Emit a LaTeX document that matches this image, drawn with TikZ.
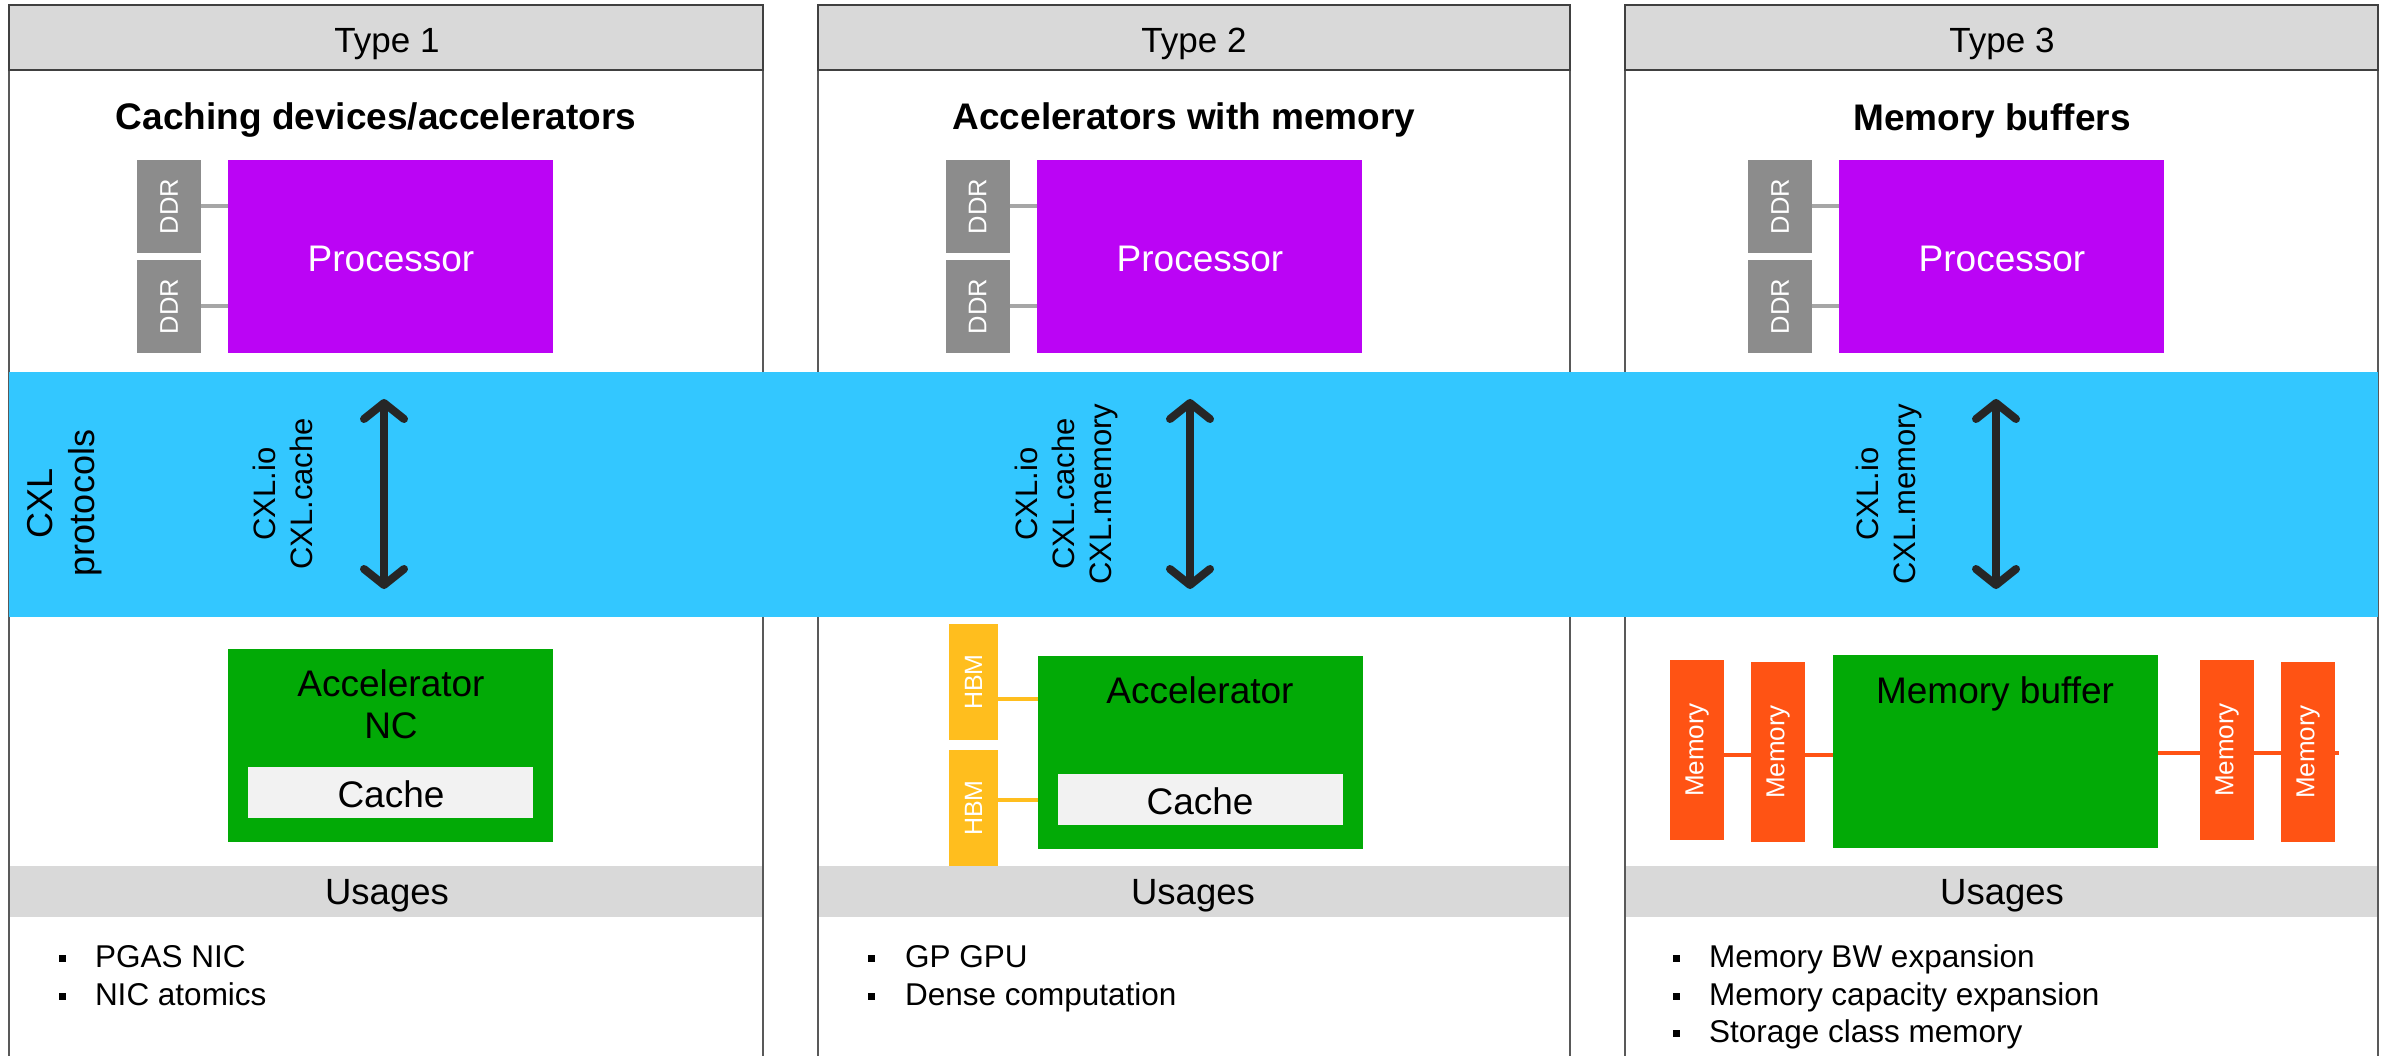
\documentclass[tikz,border=0pt]{standalone}
\usepackage{graphicx}
\usepackage{fontspec}
\setmainfont{Liberation Sans}
\usetikzlibrary{arrows.meta}
\definecolor{hdr}{HTML}{D9D9D9}
\definecolor{colline}{HTML}{595959}
\definecolor{hdrline}{HTML}{404040}
\definecolor{procc}{HTML}{BB04F5}
\definecolor{ddrc}{HTML}{8C8C8C}
\definecolor{ddrl}{HTML}{A6A6A6}
\definecolor{bandc}{HTML}{33C7FF}
\definecolor{grn}{HTML}{02AA06}
\definecolor{cachec}{HTML}{F2F2F2}
\definecolor{arrc}{HTML}{262626}
\definecolor{hbmc}{HTML}{FFBE1E}
\definecolor{memc}{HTML}{FF5314}
\tikzset{
  plain/.style={inner sep=0pt, outer sep=0pt},
  hdrbox/.style={plain, fill=hdr, draw=hdrline, line width=2pt, minimum width=754pt, minimum height=65pt},
  usebar/.style={plain, fill=hdr, minimum width=754pt, minimum height=51pt},
  procbox/.style={plain, fill=procc, minimum width=325pt, minimum height=193pt},
  ddrbox/.style={plain, fill=ddrc, minimum width=64pt, minimum height=93pt, text=white, font=\fontsize{25.5}{30}\selectfont},
  hbmbox/.style={plain, fill=hbmc, minimum width=49pt, minimum height=116pt, text=white, font=\fontsize{25}{30}\selectfont},
  membox/.style={plain, fill=memc, minimum width=54pt, minimum height=180pt, text=white, font=\fontsize{26}{31}\selectfont},
  grnbox/.style={plain, fill=grn, minimum width=325pt, minimum height=193pt},
  cachebox/.style={plain, fill=cachec, minimum width=285pt, minimum height=51pt},
  maintxt/.style={plain, anchor=base, font=\fontsize{37}{44}\selectfont},
  typetxt/.style={plain, anchor=base, font=\fontsize{35}{42}\selectfont},
  titletxt/.style={plain, anchor=base, font=\fontsize{37}{44}\selectfont\bfseries},
  cxltxt/.style={plain, rotate=90, align=center, font=\fontsize{31}{37}\selectfont},
  utxt/.style={plain, anchor=base west, font=\fontsize{31.5}{38}\selectfont},
  bul/.style={plain, fill=black, minimum size=7pt},
  ddrline/.style={draw=ddrl, line width=4pt},
  hbmline/.style={draw=hbmc, line width=4pt},
  memline/.style={draw=memc, line width=4pt},
  colborder/.style={draw=colline, line width=2pt},
  bigarrow/.style={draw=arrc, line width=8pt,
    {Straight Barb[length=16pt,width=40pt,round]}-{Straight Barb[length=16pt,width=40pt,round]}}
}
\begin{document}
\begin{tikzpicture}[x=1pt,y=-1pt]
\useasboundingbox (0,0) rectangle (2387,1056);
\fill[white] (0,0) rectangle (2387,1056);

% usages bars
\node[usebar] (ub1) at (386,891.5) {};
\node[usebar] (ub2) at (1194,891.5) {};
\node[usebar] (ub3) at (2001.5,891.5) {};
% column borders
\draw[colborder] (9,1060) -- (9,6) -- (763,6) -- (763,1060);
\draw[colborder] (818,1060) -- (818,6) -- (1570,6) -- (1570,1060);
\draw[colborder] (1625,1060) -- (1625,6) -- (2378,6) -- (2378,1060);
% headers
\node[hdrbox] (h1) at (386,38) {};
\node[hdrbox, minimum width=752pt] (h2) at (1194,38) {};
\node[hdrbox, minimum width=753pt] (h3) at (2001.5,38) {};
\node[typetxt] (h1t) at (387,53) {Type 1};
\node[typetxt] (h2t) at (1194,53) {Type 2};
\node[typetxt] (h3t) at (2002,53) {Type 3};
% titles
\node[titletxt] (t1) at (376,130) {Caching devices/accelerators};
\node[titletxt] (t2) at (1184,130) {Accelerators with memory};
\node[titletxt] (t3) at (1992,131) {Memory buffers};

% processors and DDR
\node[procbox] (p1) at (390.5,256.5) {};
\node[procbox] (p2) at (1199.5,256.5) {};
\node[procbox] (p3) at (2001.5,256.5) {};
\node[maintxt, text=white] (p1t) at (391,272) {Processor};
\node[maintxt, text=white] (p2t) at (1200,272) {Processor};
\node[maintxt, text=white] (p3t) at (2002,272) {Processor};
\node[ddrbox] (d11) at (169,206.5) {\rotatebox{90}{DDR}};
\node[ddrbox] (d12) at (169,306.5) {\rotatebox{90}{DDR}};
\node[ddrbox] (d21) at (977.5,206.5) {\rotatebox{90}{DDR}};
\node[ddrbox] (d22) at (977.5,306.5) {\rotatebox{90}{DDR}};
\node[ddrbox] (d31) at (1780,206.5) {\rotatebox{90}{DDR}};
\node[ddrbox] (d32) at (1780,306.5) {\rotatebox{90}{DDR}};
\draw[ddrline] (d11.east) -- (p1.west |- d11.east);
\draw[ddrline] (d12.east) -- (p1.west |- d12.east);
\draw[ddrline] (d21.east) -- (p2.west |- d21.east);
\draw[ddrline] (d22.east) -- (p2.west |- d22.east);
\draw[ddrline] (d31.east) -- (p3.west |- d31.east);
\draw[ddrline] (d32.east) -- (p3.west |- d32.east);

% CXL band
\node[plain, fill=bandc, minimum width=2369pt, minimum height=245pt] (band) at (1193.5,494.5) {};
\node[cxltxt, font=\fontsize{36}{42}\selectfont] (cxlp) at (65,503) {CXL\\protocols};
\node[cxltxt] (l1) at (283,494) {CXL.io\\CXL.cache};
\node[cxltxt] (l2) at (1066,494) {CXL.io\\CXL.cache\\CXL.memory};
\node[cxltxt] (l3) at (1889,494) {CXL.io\\CXL.memory};
\coordinate (a1t) at (384,399);
\coordinate (a1b) at (384,589);
\coordinate (a2t) at (1190,399);
\coordinate (a2b) at (1190,589);
\coordinate (a3t) at (1996,399);
\coordinate (a3b) at (1996,589);
\draw[bigarrow] (a1t) -- (a1b);
\draw[bigarrow] (a2t) -- (a2b);
\draw[bigarrow] (a3t) -- (a3b);

% Type 1 device
\node[grnbox] (g1) at (390.5,745.5) {};
\node[maintxt] (g1t) at (391,696) {Accelerator};
\node[maintxt] (g1n) at (391,738) {NC};
\node[cachebox] (c1) at (390.5,792.5) {};
\node[maintxt] (c1t) at (391,807) {Cache};

% Type 2 device
\node[grnbox] (g2) at (1200.5,752.5) {};
\node[maintxt] (g2t) at (1200,703) {Accelerator};
\node[cachebox] (c2) at (1200.5,799.5) {};
\node[maintxt] (c2t) at (1200,814) {Cache};
\node[hbmbox] (hb1) at (973.5,682) {\rotatebox{90}{HBM}};
\node[hbmbox] (hb2) at (973.5,808) {\rotatebox{90}{HBM}};
\draw[hbmline] ([yshift=-17pt]hb1.east) -- (g2.west |- 0,699);
\draw[hbmline] ([yshift=8pt]hb2.east) -- (g2.west |- 0,800);

% Type 3 device
\node[grnbox] (g3) at (1995.5,751.5) {};
\node[maintxt] (g3t) at (1995,703) {Memory buffer};
\node[membox] (m1) at (1697,750) {\rotatebox{90}{Memory}};
\node[membox] (m2) at (1778,752) {\rotatebox{90}{Memory}};
\node[membox] (m3) at (2227,750) {\rotatebox{90}{Memory}};
\node[membox] (m4) at (2308,752) {\rotatebox{90}{Memory}};
\coordinate (mend) at (2339,753);
\draw[memline] (m1.east |- 0,755) -- (m2.west |- 0,755);
\draw[memline] (m2.east |- 0,755) -- (g3.west |- 0,755);
\draw[memline] (g3.east |- 0,753) -- (m3.west |- 0,753);
\draw[memline] (m3.east |- 0,753) -- (m4.west |- 0,753);
\draw[memline] (m4.east |- 0,753) -- (mend);

% Usages
\node[maintxt, font=\fontsize{36.5}{44}\selectfont] (u1) at (387,904) {Usages};
\node[maintxt, font=\fontsize{36.5}{44}\selectfont] (u2) at (1193,904) {Usages};
\node[maintxt, font=\fontsize{36.5}{44}\selectfont] (u3) at (2002,904) {Usages};

\node[bul] (b11) at (62,958) {};
\node[utxt] (u11) at (95,967) {PGAS NIC};
\node[bul] (b12) at (62,996) {};
\node[utxt] (u12) at (95,1005) {NIC atomics};

\node[bul] (b21) at (871,958) {};
\node[utxt] (u21) at (905,967) {GP GPU};
\node[bul] (b22) at (871,996) {};
\node[utxt] (u22) at (905,1005) {Dense computation};

\node[bul] (b31) at (1676,958) {};
\node[utxt] (u31) at (1709,967) {Memory BW expansion};
\node[bul] (b32) at (1676,996) {};
\node[utxt] (u32) at (1709,1005) {Memory capacity expansion};
\node[bul] (b33) at (1676,1033) {};
\node[utxt] (u33) at (1709,1042) {Storage class memory};
\end{tikzpicture}
\end{document}
